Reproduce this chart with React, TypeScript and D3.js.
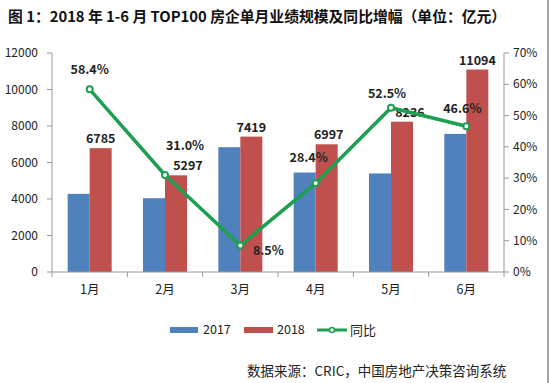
import React from "react";
import * as d3 from "d3";

const categories = ["1月", "2月", "3月", "4月", "5月", "6月"];
const values2017 = [4283, 4043, 6838, 5449, 5401, 7568];
const values2018 = [6785, 5297, 7419, 6997, 8236, 11094];
const yoy = [58.4, 31.0, 8.5, 28.4, 52.5, 46.6];
const leftTicks = [0, 2000, 4000, 6000, 8000, 10000, 12000];
const rightTicks = [0, 10, 20, 30, 40, 50, 60, 70];
// label offsets (dx, dy) for yoy labels, relative to point
const yoyLabelOffsets: [number, number][] = [
  [0, -20], [20, -29], [28, 5], [-7, -26], [-4, -14], [-4, -18],
];
const barLabelOffsets = [0, 12, 0, 2, 8, 0];

const W = 550, H = 383;
const m = { left: 52, right: 504, top: 53, bottom: 272 };
const BLUE = "#4F81BD", RED = "#C0504D", GREEN = "#1E9E50";
const FONT = "'Noto Sans CJK SC', 'Noto Sans', sans-serif";

export default function App() {
  const x = d3.scaleBand<string>().domain(categories).range([m.left, m.right]).paddingInner(0).paddingOuter(0);
  const yL = d3.scaleLinear().domain([0, 12000]).range([m.bottom, m.top]);
  const yR = d3.scaleLinear().domain([0, 70]).range([m.bottom, m.top]);
  const bw = 22;
  const cx = (c: string) => (x(c) as number) + x.bandwidth() / 2;
  const line = d3.line<number>().x((_, i) => cx(categories[i])).y((d) => yR(d));

  return (
    <svg width={W} height={H} style={{ position: "absolute", left: 0, top: 0, background: "#fff" }} fontFamily={FONT}>
      <rect x={0} y={0} width={W} height={H} fill="#fff" />
      <line x1={548} x2={548} y1={0} y2={H} stroke="#888" strokeWidth={1.5} />
      <text x={8} y={22} fontSize={14.8} fontWeight="bold" fill="#111">
        图 1：2018 年 1-6 月 TOP100 房企单月业绩规模及同比增幅（单位：亿元）
      </text>

      {/* left axis */}
      <line x1={m.left} x2={m.left} y1={m.top} y2={m.bottom} stroke="#999" />
      {leftTicks.map((t) => (
        <g key={"l" + t}>
          <line x1={m.left - 5} x2={m.left} y1={yL(t)} y2={yL(t)} stroke="#999" />
          <text x={38} y={yL(t)} dy="0.35em" textAnchor="end" fontSize={12} fill="#222">{t}</text>
        </g>
      ))}
      {/* right axis */}
      <line x1={m.right} x2={m.right} y1={m.top} y2={m.bottom} stroke="#999" />
      {rightTicks.map((t) => (
        <g key={"r" + t}>
          <line x1={m.right} x2={m.right + 5} y1={yR(t)} y2={yR(t)} stroke="#999" />
          <text x={513} y={yR(t)} dy="0.35em" textAnchor="start" fontSize={12} fill="#222">{t}%</text>
        </g>
      ))}

      {/* bars */}
      {categories.map((c, i) => (
        <g key={c}>
          <rect x={cx(c) - bw} y={yL(values2017[i])} width={bw} height={m.bottom - yL(values2017[i])} fill={BLUE} />
          <rect x={cx(c)} y={yL(values2018[i])} width={bw} height={m.bottom - yL(values2018[i])} fill={RED} />
          <text x={cx(c) + bw / 2 + barLabelOffsets[i]} y={yL(values2018[i]) - 5} textAnchor="middle" fontSize={12.5} fontWeight="bold" fill="#222">
            {values2018[i]}
          </text>
        </g>
      ))}

      {/* bottom axis */}
      <line x1={m.left} x2={m.right} y1={m.bottom} y2={m.bottom} stroke="#999" />
      {categories.map((c, i) => (
        <g key={"x" + c}>
          <line x1={(x(c) as number) + x.bandwidth()} x2={(x(c) as number) + x.bandwidth()} y1={m.bottom} y2={m.bottom + 5} stroke="#999" />
          <text x={cx(c)} y={m.bottom + 22} textAnchor="middle" fontSize={12.5} fill="#222">{c}</text>
        </g>
      ))}
      <line x1={m.left} x2={m.left} y1={m.bottom} y2={m.bottom + 5} stroke="#999" />

      {/* yoy line */}
      <path d={line(yoy) || ""} fill="none" stroke={GREEN} strokeWidth={3.5} strokeLinejoin="round" />
      {yoy.map((v, i) => (
        <g key={"p" + i}>
          <circle cx={cx(categories[i])} cy={yR(v)} r={3} fill="#fff" stroke={GREEN} strokeWidth={2} />
          <text x={cx(categories[i]) + yoyLabelOffsets[i][0]} y={yR(v) + yoyLabelOffsets[i][1]} dy="0.35em" textAnchor="middle" fontSize={12.5} fontWeight="bold" fill="#222">
            {v.toFixed(1)}%
          </text>
        </g>
      ))}

      {/* legend */}
      <rect x={170} y={327} width={28} height={6} fill={BLUE} />
      <text x={203} y={330} dy="0.35em" fontSize={12.5} fill="#222">2017</text>
      <rect x={244} y={327} width={29} height={6} fill={RED} />
      <text x={277} y={330} dy="0.35em" fontSize={12.5} fill="#222">2018</text>
      <line x1={317} x2={347} y1={330} y2={330} stroke={GREEN} strokeWidth={3} />
      <circle cx={332} cy={330} r={2.5} fill="#fff" stroke={GREEN} strokeWidth={1.5} />
      <text x={350} y={330} dy="0.35em" fontSize={13} fill="#222">同比</text>

      <text x={247} y={371} dy="0.35em" fontSize={13.5} fill="#222">数据来源：CRIC，中国房地产决策咨询系统</text>
    </svg>
  );
}
